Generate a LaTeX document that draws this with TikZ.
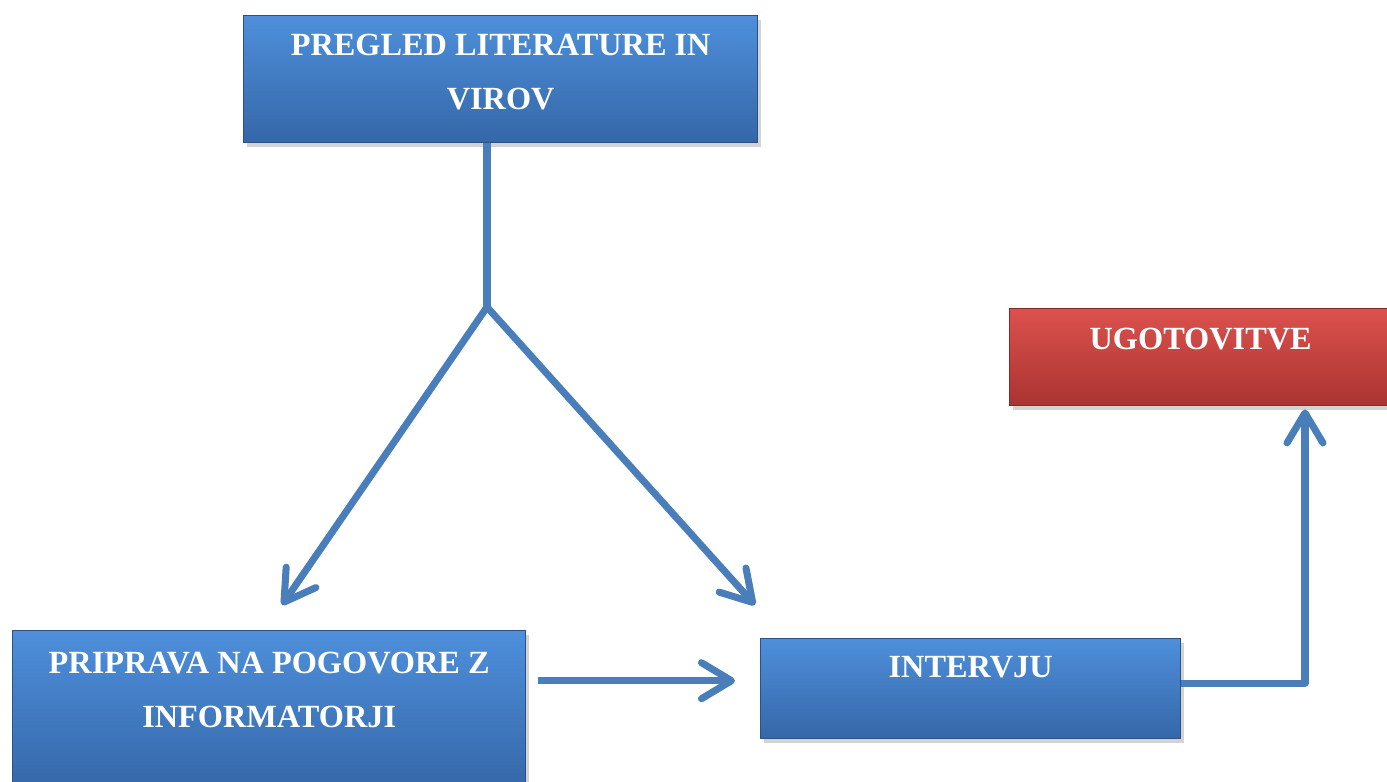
\documentclass[tikz,border=0pt]{standalone}
\usepackage{fontspec}
\setmainfont{Liberation Serif}
\usetikzlibrary{arrows.meta,shadows,calc}
\definecolor{boxtop}{HTML}{4E8FDB}
\definecolor{boxbot}{HTML}{3567A8}
\definecolor{redtop}{HTML}{DC514D}
\definecolor{redbot}{HTML}{A93431}
\definecolor{flowblue}{HTML}{4A7EBB}
\tikzset{
	stage/.style={rectangle, anchor=north west, inner sep=0pt, top color=boxtop, bottom color=boxbot, draw=boxbot!80!black, line width=0.4pt, drop shadow={shadow xshift=0.03cm, shadow yshift=-0.04cm, opacity=0.35}},
	redstage/.style={stage, top color=redtop, bottom color=redbot, draw=redbot!80!black},
	stagetext/.style={anchor=north, yshift=-0.18cm, inner sep=0pt, align=center, text=white, font=\fontsize{9.2}{15.6}\selectfont\bfseries},
	flow/.style={draw=flowblue, line width=2pt, line join=round, -{Straight Barb[length=0.3cm, width=0.36cm, round]}},
	flowline/.style={draw=flowblue, line width=2pt, line join=round}
}
\begin{document}
\begin{tikzpicture}
		\useasboundingbox (0,0) rectangle (13.87,-7.81);
		
		\node[stage, minimum width=5.14cm, minimum height=1.27cm, label={[stagetext]north:PREGLED LITERATURE IN\\VIROV}] (pregled) at (2.43,-0.15) {};
		\node[redstage, minimum width=3.82cm, minimum height=0.97cm, label={[stagetext, yshift=-0.01cm]north:UGOTOVITVE}] (ugot) at (10.09,-3.08) {};
		\node[stage, minimum width=5.13cm, minimum height=1.60cm, label={[stagetext, yshift=-0.03cm]north:PRIPRAVA NA POGOVORE Z\\INFORMATORJI}] (priprava) at (0.12,-6.30) {};
		\node[stage, minimum width=4.20cm, minimum height=1.00cm, label={[stagetext]north:INTERVJU}] (intervju) at (7.60,-6.38) {};
		
		\coordinate (split) at (4.87,-3.07);
		\coordinate (tipL) at (2.82,-6.05);
		\coordinate (tipR) at (7.55,-6.05);
		\coordinate (bend) at (13.05,-6.83);
		
		\draw[flowline] (split |- pregled.south) -- (split);
		\draw[flow] (split) -- (tipL);
		\draw[flow] (split) -- (tipR);
		\draw[flow] ($(priprava.east)+(0.12,0.30)$) -- ($(intervju.west)+(-0.25,0.08)$);
		\draw[flow] (intervju.east |- bend) -- (bend) -- ([yshift=-0.03cm]bend |- ugot.south);
\end{tikzpicture}
\end{document}
